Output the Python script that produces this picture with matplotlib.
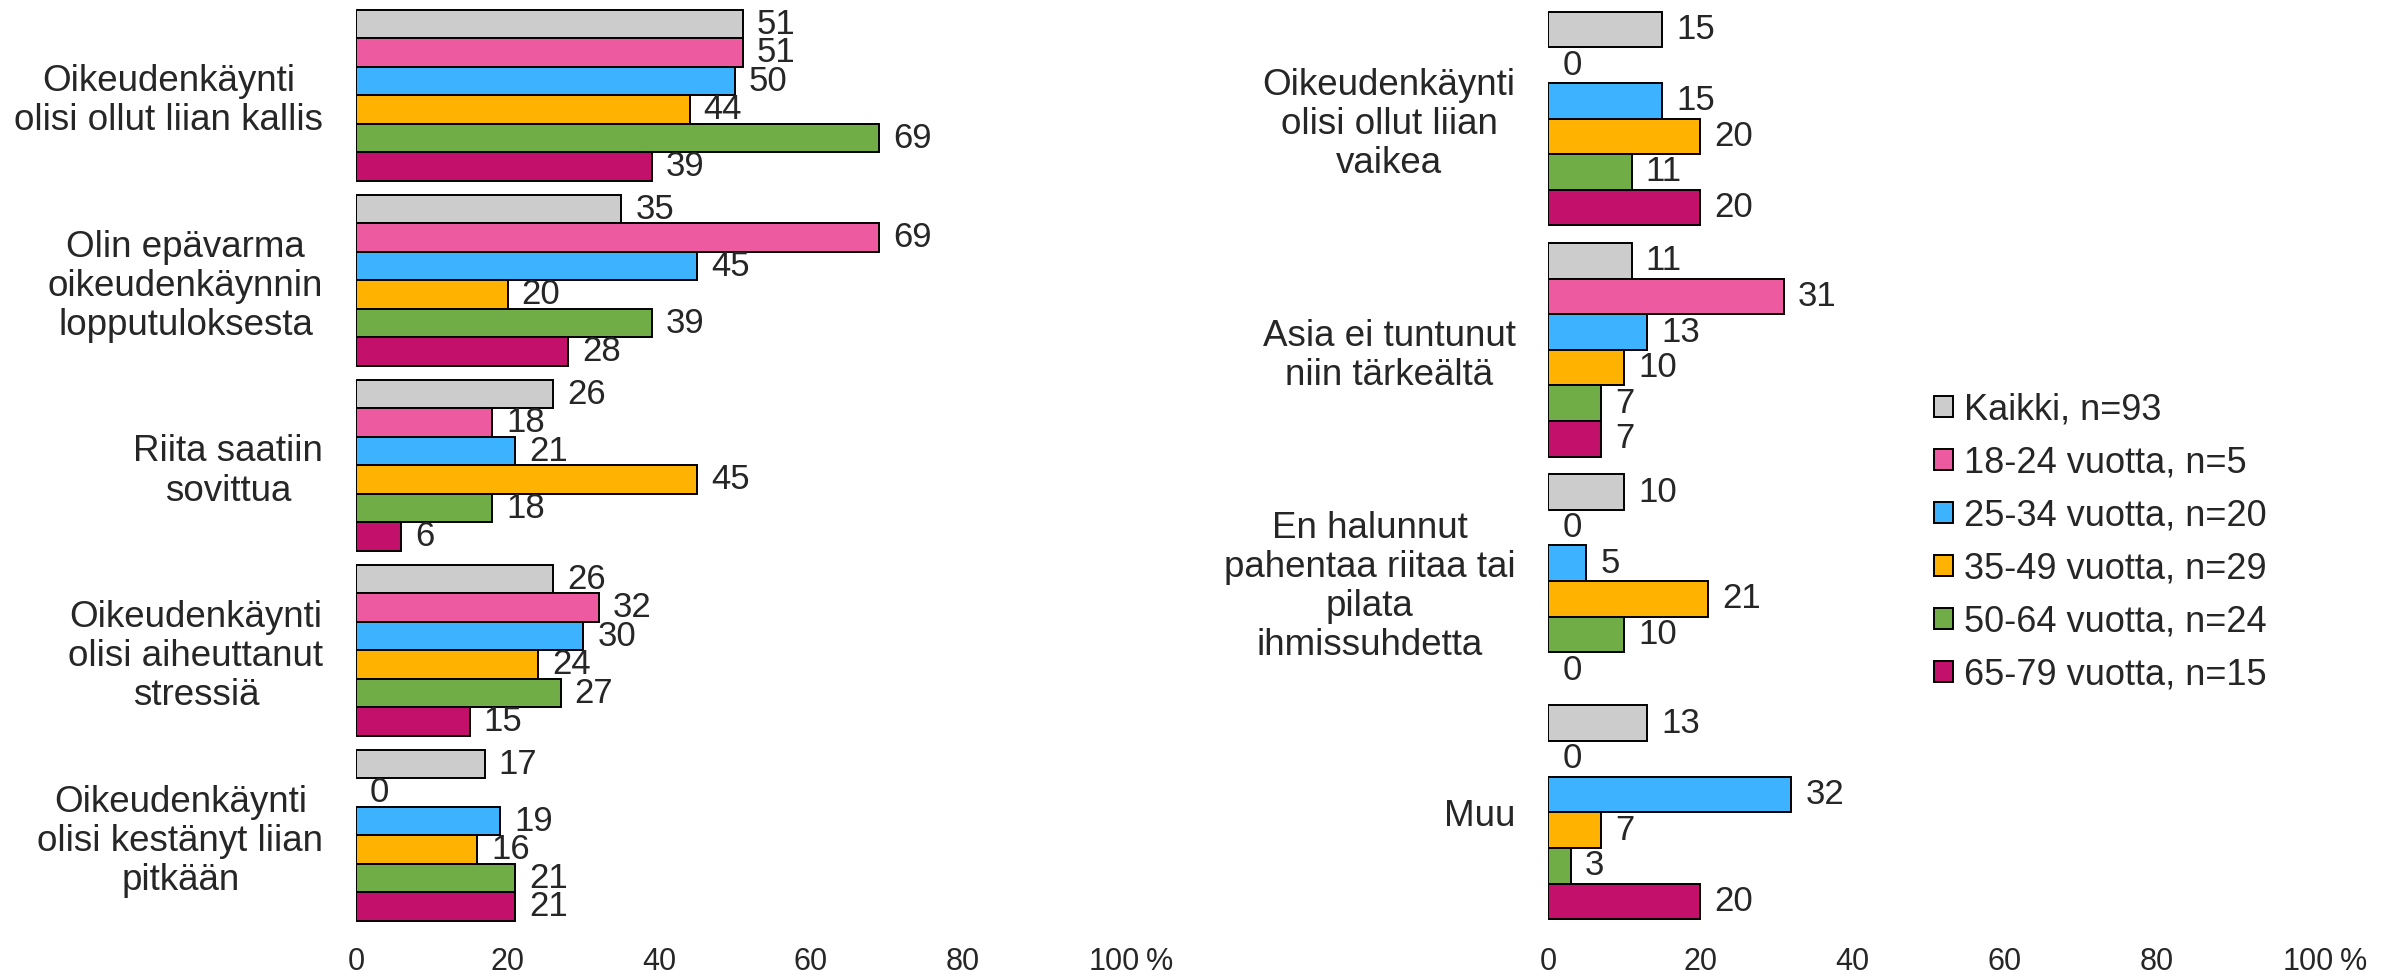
import matplotlib
matplotlib.use("Agg")
import numpy as np
import matplotlib.pyplot as plt
from matplotlib.patches import Patch

plt.rcParams["font.family"] = ["Liberation Sans", "DejaVu Sans"]

# ---- data ----
series = ["Kaikki, n=93", "18-24 vuotta, n=5", "25-34 vuotta, n=20",
          "35-49 vuotta, n=29", "50-64 vuotta, n=24", "65-79 vuotta, n=15"]
colors = ["#CCCCCC", "#EE5A9F", "#3DB2FF", "#FFB300", "#70AD47", "#C2106B"]

left_cats = ["Oikeudenkäynti\nolisi ollut liian kallis",
             "Olin epävarma\noikeudenkäynnin\nlopputuloksesta",
             "Riita saatiin\nsovittua",
             "Oikeudenkäynti\nolisi aiheuttanut\nstressiä",
             "Oikeudenkäynti\nolisi kestänyt liian\npitkään"]
left_vals = [[51, 51, 50, 44, 69, 39],
             [35, 69, 45, 20, 39, 28],
             [26, 18, 21, 45, 18, 6],
             [26, 32, 30, 24, 27, 15],
             [17, 0, 19, 16, 21, 21]]

right_cats = ["Oikeudenkäynti\nolisi ollut liian\nvaikea",
              "Asia ei tuntunut\nniin tärkeältä",
              "En halunnut\npahentaa riitaa tai\npilata\nihmissuhdetta",
              "Muu"]
right_vals = [[15, 0, 15, 20, 11, 20],
              [11, 31, 13, 10, 7, 7],
              [10, 0, 5, 21, 10, 0],
              [13, 0, 32, 7, 3, 20]]

xticks = [0, 20, 40, 60, 80, 100]

TXT = "#262626"
H = 0.154

fig = plt.figure(figsize=(23.86, 9.8), dpi=100)
ax1 = fig.add_axes([0.1492, 0.0531, 0.3177, 0.9439])
ax2 = fig.add_axes([0.6489, 0.0531, 0.3185, 0.9439])


def draw(ax, cats, vals):
    n = len(cats)
    for i, row in enumerate(vals):
        for j, v in enumerate(row):
            y = i + (j - 2.5) * H
            if v > 0:
                ax.barh(y, v, height=H, color=colors[j], edgecolor="black",
                        linewidth=1.4)
            ax.annotate(str(v), xy=(v, y), xytext=(10, 0),
                        textcoords="offset points", va="center", ha="left",
                        fontsize=25, color=TXT)
    ax.set_xlim(0, 100)
    ax.set_ylim(n - 0.5, -0.5)
    ax.set_yticks(range(n))
    ax.set_yticklabels(cats, fontsize=26.5, color=TXT, linespacing=1.15)
    for lab in ax.get_yticklabels():
        lab.set_multialignment("center")
    ax.set_xticks(xticks)
    ax.set_xticklabels([str(t) for t in xticks], fontsize=22, color=TXT)
    ax.tick_params(axis="x", length=0, pad=14)
    ax.tick_params(axis="y", length=0, pad=23.5)
    for s in ax.spines.values():
        s.set_visible(False)
    ax.annotate("%", xy=(100, 0), xycoords=("data", "axes fraction"),
                xytext=(23, -14), textcoords="offset points",
                ha="left", va="top", fontsize=22, color=TXT)


draw(ax1, left_cats, left_vals)
draw(ax2, right_cats, right_vals)

handles = [Patch(facecolor=c, edgecolor="black", linewidth=1.4) for c in colors]
fig.legend(handles, series, loc="upper left", bbox_to_anchor=(1934 / 2386, 0.600),
           frameon=False, fontsize=26, handlelength=0.53, handleheight=0.53,
           handletextpad=0.3, labelspacing=0.5, borderpad=0, borderaxespad=0,
           labelcolor=TXT)

fig.savefig("out.png", dpi=100, facecolor="white")
